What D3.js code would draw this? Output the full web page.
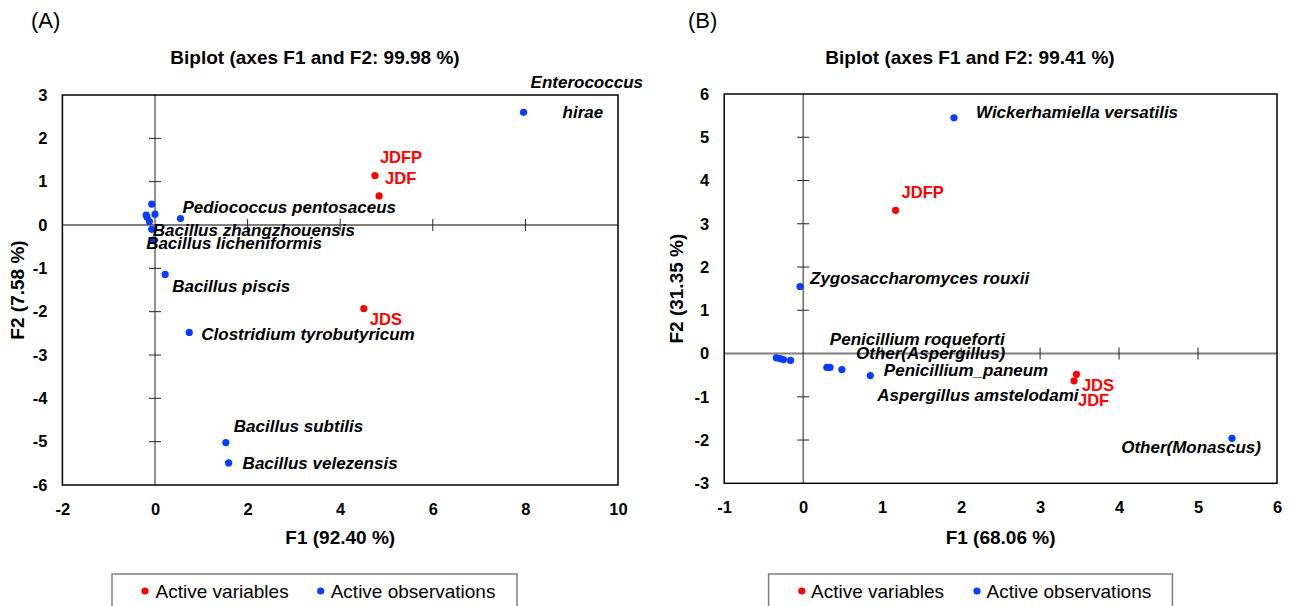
<!DOCTYPE html>
<html>
<head>
<meta charset="utf-8">
<script src="https://cdn.jsdelivr.net/npm/d3@7"></script>
<style>
body { margin: 0; background: #fff; }
text { font-family: "Liberation Sans", Arial, sans-serif; }
</style>
</head>
<body>
<div id="vis"></div>
<script>
// (A) bacteria - observations and variables (F1, F2 scores)
const obsA = ['Enterococcus hirae', 'Pediococcus pentosaceus', 'Bacillus zhangzhouensis',
  'Bacillus licheniformis', 'Bacillus piscis', 'Clostridium tyrobutyricum',
  'Bacillus subtilis', 'Bacillus velezensis', '', '', '', '', '']
const obsA_F1 = [7.96, 0.55, -0.07, -0.04, 0.22, 0.74, 1.53, 1.59, -0.07, 0.00, -0.19, -0.17, -0.12]
const obsA_F2 = [2.60, 0.15, -0.10, -0.35, -1.14, -2.48, -5.02, -5.49, 0.48, 0.25, 0.23, 0.18, 0.08]
const varA = ['JDFP', 'JDF', 'JDS']
const varA_F1 = [4.75, 4.84, 4.51]
const varA_F2 = [1.14, 0.67, -1.93]

// (B) fungi
const obsB = ['Zygosaccharomyces rouxii', 'Wickerhamiella versatilis', 'Other(Monascus)',
  'Penicillium roqueforti', 'Other(Aspergillus)', 'Penicillium_paneum',
  'Aspergillus amstelodami', '', '', '', '']
const obsB_F1 = [-0.04, 1.91, 5.43, 0.30, 0.34, 0.49, 0.85, -0.34, -0.29, -0.25, -0.16]
const obsB_F2 = [1.55, 5.45, -1.96, -0.32, -0.32, -0.37, -0.51, -0.10, -0.12, -0.14, -0.16]
const varB = ['JDFP', 'JDS', 'JDF']
const varB_F1 = [1.17, 3.46, 3.43]
const varB_F2 = [3.31, -0.48, -0.63]

const legendItems = ['Active variables', 'Active observations']

const RED = '#ff0000', BLUE = '#0a3cff';

// label placement relative to the point: [dx (start), dy (center)]
const labelsA = {
  'Enterococcus hirae': [['Enterococcus', 7, -30], ['hirae', 39, 0]],
  'Pediococcus pentosaceus': [[null, 2, -11]],
  'Bacillus zhangzhouensis': [[null, 1, 1]],
  'Bacillus licheniformis': [[null, -7, 3]],
  'Bacillus piscis': [[null, 7, 12]],
  'Clostridium tyrobutyricum': [[null, 12, 2]],
  'Bacillus subtilis': [[null, 8, -16]],
  'Bacillus velezensis': [[null, 14, 0]],
  'JDFP': [[null, 5, -18]], 'JDF': [[null, 6, -18]], 'JDS': [[null, 6, 11]]
}
const labelsB = {
  'Wickerhamiella versatilis': [[null, 22, -6]],
  'Zygosaccharomyces rouxii': [[null, 10, -8]],
  'Penicillium roqueforti': [[null, 3, -28]],
  'Other(Aspergillus)': [[null, 26, -14]],
  'Penicillium_paneum': [[null, 42, 1]],
  'Aspergillus amstelodami': [[null, 7, 19]],
  'Other(Monascus)': [[null, 29, 9, 'end']],
  'JDFP': [[null, 6, -18]], 'JDS': [[null, 5.5, 11]], 'JDF': [[null, 4, 19]]
}

const svg = d3.select('#vis')
  .append('svg')
  .attr('width', 1295)
  .attr('height', 606);

const panels = [
  {
    tag: '(A)', tagX: 31, title: 'Biplot (axes F1 and F2: 99.98 %)', titleX: 315,
    xTitle: 'F1 (92.40 %)', yTitle: 'F2 (7.58 %)', yTitleX: 17,
    left: 62.4, right: 618, top: 95, bottom: 485,
    xDomain: [-2, 10], yDomain: [-6, 3], xTicks: 6,
    obs: obsA, obsF1: obsA_F1, obsF2: obsA_F2,
    vars: varA, varF1: varA_F1, varF2: varA_F2, labels: labelsA,
    legend: {x0: 112, x1: 517, dots: [145, 320.7], texts: [155.6, 330.7]}
  },
  {
    tag: '(B)', tagX: 688, title: 'Biplot (axes F1 and F2: 99.41 %)', titleX: 970,
    xTitle: 'F1 (68.06 %)', yTitle: 'F2 (31.35 %)', yTitleX: 676,
    left: 724.2, right: 1277, top: 94, bottom: 483.3,
    xDomain: [-1, 6], yDomain: [-3, 6], xTicks: 7,
    obs: obsB, obsF1: obsB_F1, obsF2: obsB_F2,
    vars: varB, varF1: varB_F1, varF2: varB_F2, labels: labelsB,
    legend: {x0: 768.6, x1: 1172.4, dots: [801.8, 977], texts: [811, 986.5]}
  }
]

function drawPanel(p) {
  const g = svg.append('g');
  const x = d3.scaleLinear().domain(p.xDomain).range([p.left, p.right]);
  const y = d3.scaleLinear().domain(p.yDomain).range([p.bottom, p.top]);
  const x0 = x(0), y0 = y(0);
  const fmt = d => String(d); // plain hyphen minus, like the original

  g.append('text').attr('x', p.tagX).attr('y', 20).attr('dy', '0.35em')
    .attr('font-size', 22).text(p.tag);

  g.append('text').attr('x', p.titleX).attr('y', 57).attr('dy', '0.35em')
    .attr('text-anchor', 'middle').attr('font-size', 19).attr('font-weight', 'bold')
    .text(p.title);

  // tick labels outside the box
  const xAxis = g.append('g')
    .attr('transform', `translate(0,${p.bottom})`)
    .call(d3.axisBottom(x).ticks(p.xTicks).tickFormat(fmt).tickSize(0).tickPadding(18));
  const yAxis = g.append('g')
    .attr('transform', `translate(${p.left},0)`)
    .call(d3.axisLeft(y).ticks(9).tickFormat(fmt).tickSize(0).tickPadding(15));
  [xAxis, yAxis].forEach(a => {
    a.select('.domain').remove();
    a.attr('font-family', null).attr('font-size', 16.5).attr('font-weight', 'bold');
    a.selectAll('text').attr('fill', '#000');
  });

  g.append('text').attr('x', (p.left + p.right) / 2).attr('y', 537).attr('dy', '0.35em')
    .attr('text-anchor', 'middle').attr('font-size', 19).attr('font-weight', 'bold')
    .text(p.xTitle);
  g.append('text')
    .attr('transform', `translate(${p.yTitleX},${(p.top + p.bottom) / 2}) rotate(-90)`)
    .attr('dy', '0.35em').attr('text-anchor', 'middle')
    .attr('font-size', 19).attr('font-weight', 'bold')
    .text(p.yTitle);

  // axes through the origin
  g.append('line').attr('x1', p.left).attr('x2', p.right).attr('y1', y0).attr('y2', y0)
    .attr('stroke', '#7f7f7f').attr('stroke-width', 2);
  g.append('line').attr('x1', x0).attr('x2', x0).attr('y1', p.top).attr('y2', p.bottom)
    .attr('stroke', '#222').attr('stroke-width', 1);

  const xt = x.ticks(p.xTicks).filter(t => t !== 0 && t > p.xDomain[0] && t < p.xDomain[1]);
  const yt = y.ticks(9).filter(t => t !== 0 && t > p.yDomain[0] && t < p.yDomain[1]);
  g.selectAll('.xtick').data(xt).join('line').attr('class', 'xtick')
    .attr('x1', d => x(d)).attr('x2', d => x(d)).attr('y1', y0 - 6).attr('y2', y0 + 6)
    .attr('stroke', '#222');
  g.selectAll('.ytick').data(yt).join('line').attr('class', 'ytick')
    .attr('x1', x0 - 6).attr('x2', x0 + 6).attr('y1', d => y(d)).attr('y2', d => y(d))
    .attr('stroke', '#222');

  g.append('rect').attr('x', p.left).attr('y', p.top)
    .attr('width', p.right - p.left).attr('height', p.bottom - p.top)
    .attr('fill', 'none').attr('stroke', '#000').attr('stroke-width', 1.5);

  const obsData = p.obs.map((n, i) => ({name: n, f1: p.obsF1[i], f2: p.obsF2[i]}));
  const varData = p.vars.map((n, i) => ({name: n, f1: p.varF1[i], f2: p.varF2[i]}));

  g.selectAll('.obs').data(obsData).join('circle').attr('class', 'obs')
    .attr('cx', d => x(d.f1)).attr('cy', d => y(d.f2)).attr('r', 3.6)
    .attr('fill', BLUE);
  g.selectAll('.var').data(varData).join('circle').attr('class', 'var')
    .attr('cx', d => x(d.f1)).attr('cy', d => y(d.f2)).attr('r', 3.6)
    .attr('fill', RED);

  const addLabels = (data, isVar) => {
    data.filter(d => d.name && p.labels[d.name]).forEach(d => {
      p.labels[d.name].forEach(([txt, dx, dy, anchor]) => {
        g.append('text')
          .attr('x', x(d.f1) + dx).attr('y', y(d.f2) + dy).attr('dy', '0.35em')
          .attr('text-anchor', anchor || 'start')
          .attr('font-size', isVar ? 16.5 : 17)
          .attr('font-weight', 'bold')
          .attr('font-style', isVar ? 'normal' : 'italic')
          .attr('fill', isVar ? RED : '#000')
          .text(txt || d.name);
      });
    });
  };
  addLabels(obsData, false);
  addLabels(varData, true);

  // legend
  const lg = g.append('g');
  lg.append('rect').attr('x', p.legend.x0).attr('y', 574)
    .attr('width', p.legend.x1 - p.legend.x0).attr('height', 50)
    .attr('fill', '#fff').attr('stroke', '#808080').attr('stroke-width', 1.5);
  legendItems.forEach((t, i) => {
    lg.append('circle').attr('cx', p.legend.dots[i]).attr('cy', 591).attr('r', 3.6)
      .attr('fill', i === 0 ? RED : BLUE);
    lg.append('text').attr('x', p.legend.texts[i]).attr('y', 591).attr('dy', '0.35em')
      .attr('font-size', 19).text(t);
  });
}

panels.forEach(drawPanel);
</script>
</body>
</html>
